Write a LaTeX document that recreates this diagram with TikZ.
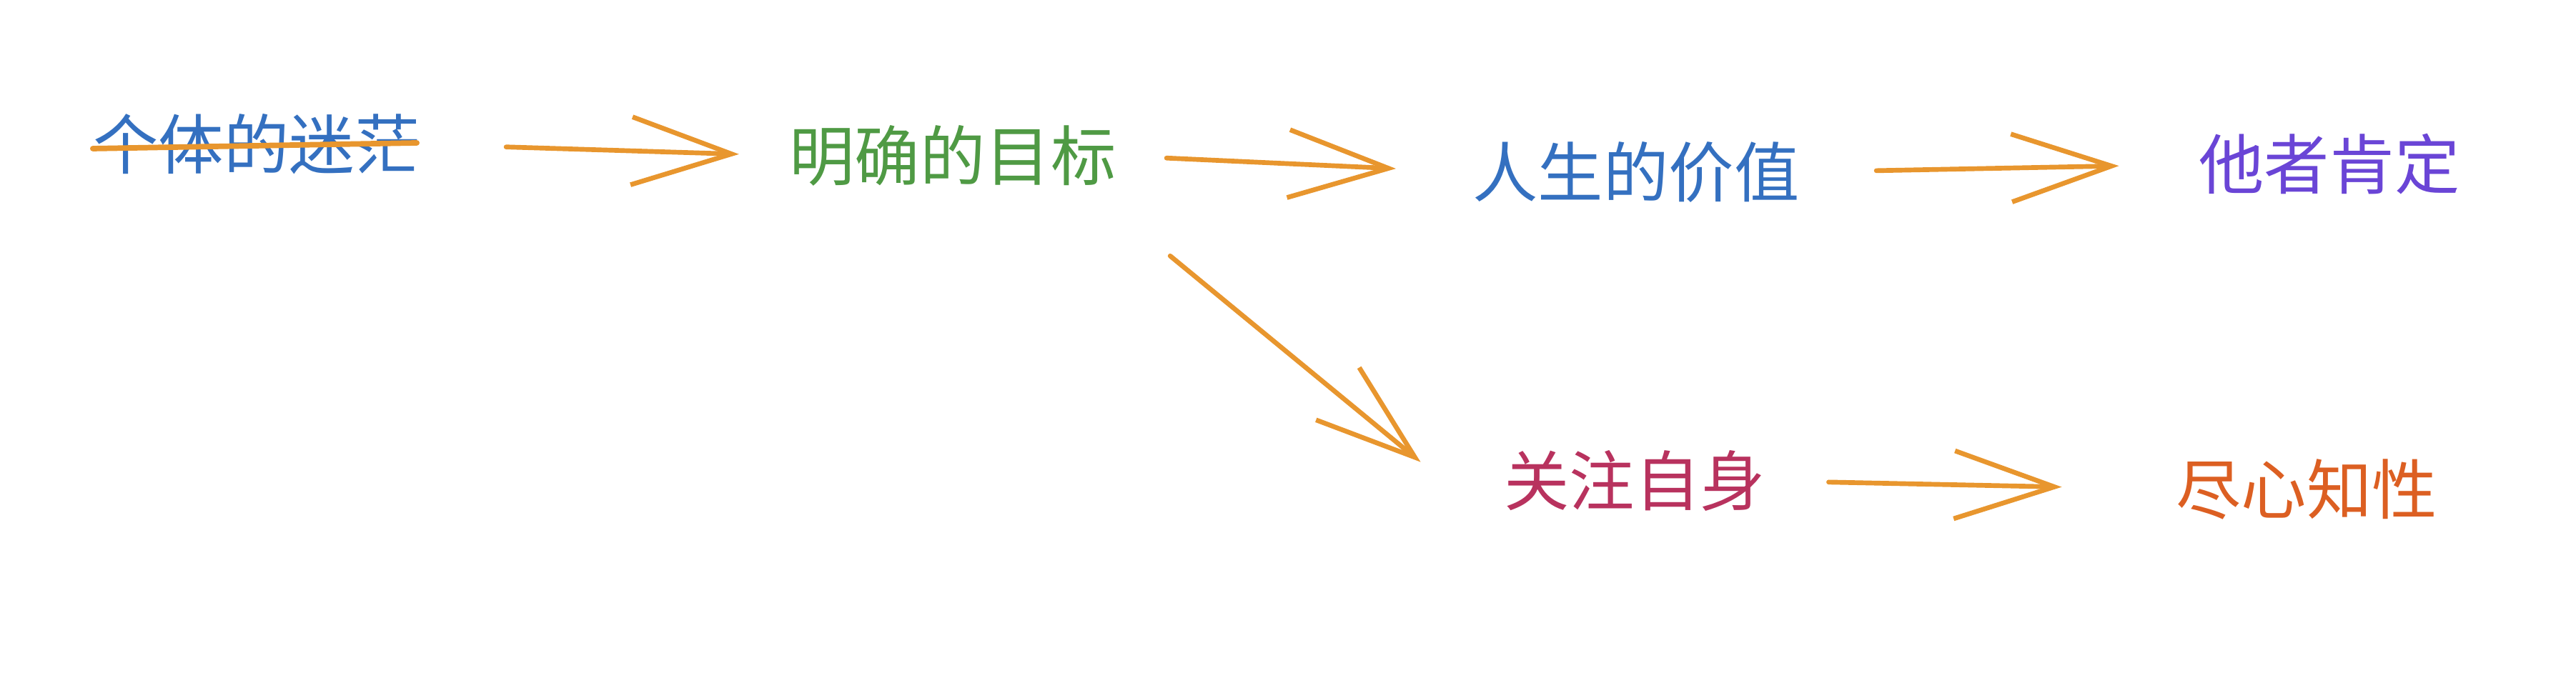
\documentclass[tikz,border=0pt]{standalone}
\usepackage{fontspec}
\usepackage{xcolor}
\usepackage{tikz}
\usetikzlibrary{arrows.meta, positioning}
\newfontfamily\cjk{Noto Sans CJK SC}
\definecolor{Stroke}{HTML}{E8962E}
\definecolor{Blue}{HTML}{3470C0}
\definecolor{Green}{HTML}{4F9A44}
\definecolor{Violet}{HTML}{6A45D6}
\definecolor{Crimson}{HTML}{B8325E}
\definecolor{Rust}{HTML}{DC5F22}

\begin{document}
\begin{tikzpicture}[
  word/.style={inner sep=0pt, font=\cjk\fontsize{26pt}{30pt}\selectfont},
  arrow/.style={-{Straight Barb[length=1.4cm, width=0.95cm, line width=1.9pt]}, line width=1.9pt, draw=Stroke, line cap=round},
  strike/.style={line width=2.2pt, draw=Stroke, line cap=round}
]
\useasboundingbox (0,0) rectangle (36.04,9.56);

\node[word, text=Blue] (mimang) at (3.59,7.54) {个体的迷茫};
\node[word, text=Green] (mubiao) at (13.33,7.38) {明确的目标};
\node[word, text=Blue] (jiazhi) at (22.89,7.15) {人生的价值};
\node[word, text=Violet] (kending) at (32.59,7.26) {他者肯定};
\node[word, text=Crimson] (guanzhu) at (22.87,2.83) {关注自身};
\node[word, text=Rust] (jinxin) at (32.27,2.71) {尽心知性};

% crossed out
\draw[strike] ([yshift=-0.06cm]mimang.west) -- ([xshift=-0.05cm, yshift=0.02cm]mimang.east);

\draw[arrow, shorten <=1.2cm, shorten >=0.7cm] (mimang.east) -- (mubiao.west);
\draw[arrow, shorten <=0.7cm, shorten >=1.07cm] (mubiao.east) -- (jiazhi.west);
\draw[arrow, shorten <=1.07cm, shorten >=1.11cm] (jiazhi.east) -- (kending.west);
\draw[arrow] ([xshift=0.75cm, yshift=-0.97cm]mubiao.south east) -- ([xshift=-1.16cm, yshift=-0.17cm]guanzhu.north west);
\draw[arrow, shorten <=0.88cm, shorten >=1.59cm] (guanzhu.east) -- (jinxin.west);
\end{tikzpicture}
\end{document}
